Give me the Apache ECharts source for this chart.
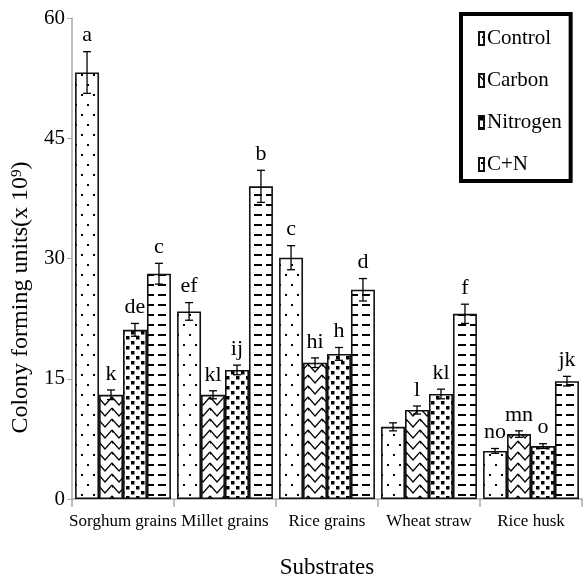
<!DOCTYPE html>
<html>
<head>
<meta charset="utf-8">
<script src="https://cdn.jsdelivr.net/npm/echarts@6/dist/echarts.min.js"></script>
<style>
  html, body { margin: 0; padding: 0; background: #fff; }
  #chart { width: 583px; height: 584px; }
</style>
</head>
<body>
<div id="chart"></div>
<script>
// data
var substrates = ['Sorghum grains', 'Millet grains', 'Rice grains', 'Wheat straw', 'Rice husk'];
var treatments = ['Control', 'Carbon', 'Nitrogen', 'C+N'];

var controlVals = [53.2, 23.4, 30.1, 9.0, 6.0];
var carbonVals = [13.0, 13.0, 17.0, 11.1, 8.1];
var nitrogenVals = [21.1, 16.1, 18.1, 13.1, 6.6];
var cnVals = [28.1, 39.0, 26.1, 23.1, 14.7];

var controlErr = [2.6, 1.1, 1.5, 0.5, 0.3];
var carbonErr = [0.6, 0.5, 0.6, 0.5, 0.4];
var nitrogenErr = [0.8, 0.6, 0.8, 0.6, 0.3];
var cnErr = [1.3, 2.0, 1.4, 1.2, 0.6];

var controlLetters = ['a', 'ef', 'c', '', 'no'];
var carbonLetters = ['k', 'kl', 'hi', 'l', 'mn'];
var nitrogenLetters = ['de', 'ij', 'h', 'kl', 'o'];
var cnLetters = ['c', 'b', 'd', 'f', 'jk'];

var yTicks = { min: 0, max: 60, interval: 15 };

var FONT = '"Liberation Serif", "Times New Roman", serif';

function makePattern(w, h, draw) {
  var c = document.createElement('canvas');
  c.width = w;
  c.height = h;
  var ctx = c.getContext('2d');
  ctx.fillStyle = '#fff';
  ctx.fillRect(0, 0, w, h);
  ctx.fillStyle = '#000';
  ctx.strokeStyle = '#000';
  draw(ctx);
  return { image: c, repeat: 'repeat' };
}

// sparse dots
var dotFill = makePattern(12, 20, function (ctx) {
  ctx.fillRect(3, 4, 2, 2);
  ctx.fillRect(9, 14, 2, 2);
});
// zig-zag rows
var zigFill = makePattern(14, 11, function (ctx) {
  ctx.lineWidth = 1.2;
  ctx.beginPath();
  ctx.moveTo(0, 1); ctx.lineTo(7, 9); ctx.lineTo(14, 1);
  ctx.moveTo(0, 1); ctx.lineTo(0, 4);
  ctx.stroke();
});
// black squares
var squareFill = makePattern(10, 10, function (ctx) {
  ctx.fillRect(1, 1, 3.5, 3.5);
  ctx.fillRect(6, 6, 3.5, 3.5);
});
// horizontal dashes
var dashFill = makePattern(12, 10, function (ctx) {
  ctx.fillRect(2, 4, 8, 2);
});

var fills = [dotFill, zigFill, squareFill, dashFill];
var values = [controlVals, carbonVals, nitrogenVals, cnVals];
var errs = [controlErr, carbonErr, nitrogenErr, cnErr];
var letters = [controlLetters, carbonLetters, nitrogenLetters, cnLetters];

var gapRatio = 0.06;

function errRender(si) {
  return function (params, api) {
    var cat = api.value(0);
    var lo = api.coord([cat, api.value(1)]);
    var hi = api.coord([cat, api.value(2)]);
    var band = api.size([1, 0])[0];
    var barW = band * (1 - gapRatio) / treatments.length;
    var cx = lo[0] + (si - (treatments.length - 1) / 2) * barW;
    var cap = 4;
    var children = [
      { type: 'line', shape: { x1: cx, y1: lo[1], x2: cx, y2: hi[1] }, style: { stroke: '#000', lineWidth: 1.3 } },
      { type: 'line', shape: { x1: cx - cap, y1: lo[1], x2: cx + cap, y2: lo[1] }, style: { stroke: '#000', lineWidth: 1.3 } },
      { type: 'line', shape: { x1: cx - cap, y1: hi[1], x2: cx + cap, y2: hi[1] }, style: { stroke: '#000', lineWidth: 1.3 } }
    ];
    var txt = letters[si][params.dataIndex];
    if (txt) {
      children.push({
        type: 'text',
        style: {
          text: txt, x: cx, y: hi[1] - 5,
          align: 'center', verticalAlign: 'bottom',
          font: '22px ' + FONT, fill: '#000'
        }
      });
    }
    return { type: 'group', children: children };
  };
}

var series = [];
treatments.forEach(function (name, si) {
  series.push({
    name: name,
    type: 'bar',
    barGap: '0%',
    barCategoryGap: (gapRatio * 100) + '%',
    data: values[si],
    itemStyle: { color: fills[si], borderColor: '#111', borderWidth: 1.6 }
  });
});
treatments.forEach(function (name, si) {
  series.push({
    type: 'custom',
    renderItem: errRender(si),
    encode: { x: 0, y: [1, 2] },
    z: 5,
    data: values[si].map(function (v, i) {
      return [i, v - errs[si][i], v + errs[si][i]];
    })
  });
});

var chart = echarts.init(document.getElementById('chart'));
chart.setOption({
  animation: false,
  backgroundColor: '#fff',
  textStyle: { fontFamily: FONT },
  grid: { left: 72, right: 1, top: 18, bottom: 82 },
  legend: {
    data: treatments,
    orient: 'vertical',
    left: 461,
    top: 14,
    padding: [14, 9, 6, 17],
    itemGap: 21,
    itemWidth: 5,
    itemHeight: 13,
    icon: 'rect',
    borderColor: '#000',
    borderWidth: 4,
    textStyle: { fontFamily: FONT, fontSize: 21, color: '#000', padding: [0, 0, 0, -2] }
  },
  xAxis: {
    type: 'category',
    data: substrates,
    name: 'Substrates',
    nameLocation: 'middle',
    nameGap: 57,
    nameTextStyle: { fontFamily: FONT, fontSize: 23, color: '#000' },
    axisLine: { lineStyle: { color: '#aaa', width: 1.5 } },
    axisTick: { show: true, length: 8, lineStyle: { color: '#aaa', width: 1.5 } },
    axisLabel: { interval: 0, margin: 14, fontFamily: FONT, fontSize: 17, color: '#000' }
  },
  yAxis: {
    type: 'value',
    min: yTicks.min,
    max: yTicks.max,
    interval: yTicks.interval,
    name: 'Colony forming units(x 10{sup|9})',
    nameLocation: 'middle',
    nameGap: 32,
    nameTextStyle: {
      fontFamily: FONT, fontSize: 24, color: '#000', padding: [0, 78, 0, 0],
      rich: { sup: { fontFamily: FONT, fontSize: 15, verticalAlign: 'top', padding: [0, 0, 9, 0] } }
    },
    splitLine: { show: false },
    axisLine: { show: true, lineStyle: { color: '#aaa', width: 1.5 } },
    axisTick: { show: true, length: 5, lineStyle: { color: '#aaa' } },
    axisLabel: { margin: 7, fontFamily: FONT, fontSize: 21, color: '#000' }
  },
  series: series
});
</script>
</body>
</html>
